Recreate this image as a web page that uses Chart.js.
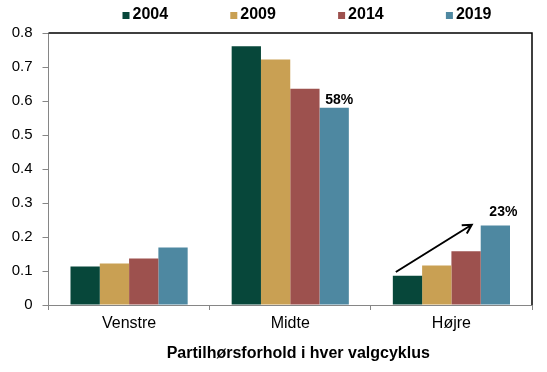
<!DOCTYPE html>
<html>
<head>
<meta charset="utf-8">
<script src="https://cdn.jsdelivr.net/npm/chart.js@4"></script>
<style>
  html, body { margin: 0; padding: 0; background: #fff; }
  #wrap { width: 547px; height: 372px; }
</style>
</head>
<body>
<div id="wrap"><canvas id="chart" width="547" height="372"></canvas></div>
<script>
// Categories and years
const categories = ['Venstre', 'Midte', 'Højre'];
const years = ['2004', '2009', '2014', '2019'];

// Share per election year
const values2004 = [0.113, 0.761, 0.086];
const values2009 = [0.122, 0.722, 0.116];
const values2014 = [0.137, 0.636, 0.158];
const values2019 = [0.169, 0.580, 0.234];

const colors = ['#07473A', '#C9A053', '#9D514E', '#4E88A1'];
const yTicks = [0, 0.1, 0.2, 0.3, 0.4, 0.5, 0.6, 0.7, 0.8];
const xTitle = 'Partilhørsforhold i hver valgcyklus';

// Highlighted values above single bars
const callouts = [
  { dataset: 3, index: 1, text: '58%' },
  { dataset: 3, index: 2, text: '23%' }
];

const FONT = 'Arial, "Liberation Sans", sans-serif';

// Legend, frame, axis title, callouts and trend arrow
const extras = {
  id: 'extras',
  afterDraw(chart) {
    const ctx = chart.ctx;
    const area = chart.chartArea;
    ctx.save();

    // black top + right frame
    ctx.strokeStyle = '#000';
    ctx.lineWidth = 1.5;
    ctx.beginPath();
    ctx.moveTo(area.left, area.top);
    ctx.lineTo(area.right, area.top);
    ctx.lineTo(area.right, area.bottom);
    ctx.stroke();

    // legend row
    ctx.font = 'bold 16px ' + FONT;
    ctx.textBaseline = 'middle';
    ctx.textAlign = 'left';
    chart.data.datasets.forEach((ds, i) => {
      const x = area.left + 74 + i * 107.8;
      ctx.fillStyle = ds.backgroundColor;
      ctx.fillRect(x, 12, 7, 7);
      ctx.fillStyle = '#000';
      ctx.fillText(ds.label, x + 10, 15);
    });

    // x axis title (sits a bit right of centre in the original)
    ctx.textAlign = 'center';
    ctx.textBaseline = 'alphabetic';
    ctx.fillText(xTitle, (area.left + area.right) / 2 + 8, 358);

    // percentage callouts
    ctx.font = 'bold 14px ' + FONT;
    callouts.forEach((c, k) => {
      const bar = chart.getDatasetMeta(c.dataset).data[c.index];
      const dx = k === 0 ? 5 : 8;
      const dy = k === 0 ? 4 : 9;
      ctx.fillText(c.text, bar.x + dx, bar.y - dy);
    });

    // trend arrow over Højre
    const yScale = chart.scales.y;
    const first = chart.getDatasetMeta(0).data[2];
    const third = chart.getDatasetMeta(2).data[2];
    const x1 = first.x - first.width / 2 + 3;
    const y1 = yScale.getPixelForValue(0.097);
    const x2 = third.x + third.width / 2 - 9;
    const y2 = yScale.getPixelForValue(0.236);
    const ang = Math.atan2(y2 - y1, x2 - x1);
    ctx.strokeStyle = '#000';
    ctx.lineWidth = 2;
    ctx.beginPath();
    ctx.moveTo(x1, y1);
    ctx.lineTo(x2, y2);
    ctx.moveTo(x2 - 10 * Math.cos(ang - 0.5), y2 - 10 * Math.sin(ang - 0.5));
    ctx.lineTo(x2, y2);
    ctx.lineTo(x2 - 10 * Math.cos(ang + 0.5), y2 - 10 * Math.sin(ang + 0.5));
    ctx.stroke();

    ctx.restore();
  }
};

const seriesValues = [values2004, values2009, values2014, values2019];

new Chart(document.getElementById('chart').getContext('2d'), {
  type: 'bar',
  data: {
    labels: categories,
    datasets: years.map((y, i) => ({
      label: y,
      data: seriesValues[i],
      backgroundColor: colors[i],
      borderWidth: 0,
      categoryPercentage: 0.727,
      barPercentage: 1
    }))
  },
  options: {
    responsive: false,
    animation: false,
    layout: { padding: { top: 33, right: 15, left: 0, bottom: 0 } },
    plugins: {
      legend: { display: false },
      tooltip: { enabled: false }
    },
    scales: {
      x: {
        grid: {
          offset: true,
          drawOnChartArea: false,
          drawTicks: true,
          tickLength: 5,
          color: '#868686'
        },
        border: { color: '#868686', width: 1 },
        ticks: { color: '#000', font: { family: FONT, size: 16 }, padding: 4 },
        afterFit(scale) { scale.height = 67; }
      },
      y: {
        min: 0,
        max: 0.8,
        afterBuildTicks(scale) { scale.ticks = yTicks.map(v => ({ value: v })); },
        grid: {
          drawOnChartArea: false,
          drawTicks: true,
          tickLength: 6,
          color: '#868686'
        },
        border: { color: '#868686', width: 1 },
        ticks: {
          color: '#000',
          font: { family: FONT, size: 15 },
          padding: 10,
          callback: v => String(Math.round(v * 10) / 10)
        },
        afterFit(scale) { scale.width = 48.5; }
      }
    }
  },
  plugins: [extras]
});
</script>
</body>
</html>
